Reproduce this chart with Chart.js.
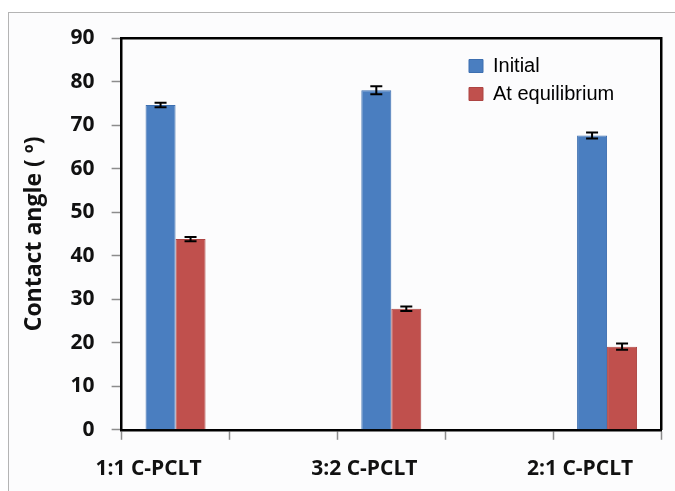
<!DOCTYPE html>
<html>
<head>
<meta charset="utf-8">
<script src="https://cdn.jsdelivr.net/npm/chart.js@4"></script>
<style>
  html, body { margin: 0; padding: 0; background: #ffffff; }
  #frame {
    position: absolute; left: 8px; top: 12px; width: 667px; height: 479px;
    border-left: 1.5px solid #b4b4b4; border-top: 1.5px solid #b4b4b4;
    background: #fcfcfd;
  }
  #wrap { position: absolute; left: 0; top: 0; width: 675px; height: 491px; }
</style>
</head>
<body>
<div id="frame"></div>
<div id="wrap"><canvas id="myChart" width="675" height="491"></canvas></div>
<script>
// categorias (as posições 2 e 4 ficam vazias, como no gráfico original)
var categorias = ['1:1 C-PCLT', '', '3:2 C-PCLT', '', '2:1 C-PCLT'];
var valoresInicial = [74.6, null, 78.0, null, 67.6];
var errosInicial = [0.5, null, 0.9, null, 0.7];
var valoresEquilibrio = [43.8, null, 27.8, null, 19.1];
var errosEquilibrio = [0.5, null, 0.5, null, 0.7];
var ticksY = [0, 10, 20, 30, 40, 50, 60, 70, 80, 90];

var fonteEixo = '"Open Sans", Lato, sans-serif';

// barras de erro desenhadas a partir da escala y
var pluginErro = {
    id: 'barrasErro',
    afterDatasetsDraw: function(chart) {
        var ctx = chart.ctx;
        var escalaY = chart.scales.y;
        chart.data.datasets.forEach(function(ds, indice) {
            var meta = chart.getDatasetMeta(indice);
            meta.data.forEach(function(barra, i) {
                var v = ds.data[i];
                var e = ds.erros[i];
                if (v == null || e == null) return;
                var yTopo = escalaY.getPixelForValue(v + e);
                var yBase = escalaY.getPixelForValue(v - e);
                ctx.save();
                ctx.strokeStyle = '#000';
                ctx.lineWidth = 2;
                ctx.beginPath();
                ctx.moveTo(barra.x, yTopo);
                ctx.lineTo(barra.x, yBase);
                ctx.moveTo(barra.x - 6, yTopo);
                ctx.lineTo(barra.x + 6, yTopo);
                ctx.moveTo(barra.x - 6, yBase);
                ctx.lineTo(barra.x + 6, yBase);
                ctx.stroke();
                ctx.restore();
            });
        });
    }
};

// coloca a legenda no canto superior direito da área do gráfico
var pluginLegenda = {
    id: 'posicaoLegenda',
    beforeDraw: function(chart) {
        var legenda = chart.legend;
        if (!legenda) return;
        legenda.left = chart.chartArea.right - 200;
        legenda.top = chart.chartArea.top + 10;
        legenda.bottom = chart.chartArea.bottom;
    }
};

var ctx = document.getElementById('myChart').getContext('2d');
var myChart = new Chart(ctx, {
    type: 'bar',
    data: {
        labels: categorias,
        datasets: [{
            label: 'Initial',
            data: valoresInicial,
            erros: errosInicial,
            backgroundColor: '#4a7ec0',
            borderColor: '#3d6fb0',
            borderWidth: 1,
            categoryPercentage: 0.556,
            barPercentage: 1.0
        }, {
            label: 'At equilibrium',
            data: valoresEquilibrio,
            erros: errosEquilibrio,
            backgroundColor: '#c0504d',
            borderColor: '#ad4442',
            borderWidth: 1,
            categoryPercentage: 0.556,
            barPercentage: 1.0
        }]
    },
    options: {
        responsive: false,
        animation: false,
        layout: {
            padding: { left: 8, top: 30, right: 6, bottom: -8 }
        },
        plugins: {
            legend: {
                position: 'chartArea',
                align: 'start',
                labels: {
                    boxWidth: 14,
                    boxHeight: 13,
                    padding: 8,
                    color: '#000',
                    font: { family: '"Liberation Sans", Arial, sans-serif', size: 20 }
                }
            },
            tooltip: { enabled: false }
        },
        scales: {
            x: {
                type: 'category',
                offset: true,
                afterFit: function(escala) {
                    escala.paddingLeft = 0;
                    escala.paddingRight = 0;
                },
                grid: {
                    offset: true,
                    drawOnChartArea: false,
                    tickLength: 10,
                    tickColor: '#8c8c8c',
                    tickWidth: 1.5
                },
                border: { color: '#000', width: 2.5 },
                ticks: {
                    autoSkip: false,
                    maxRotation: 0,
                    minRotation: 0,
                    labelOffset: -27,
                    padding: 17,
                    color: '#111',
                    font: { family: fonteEixo, size: 21, weight: 'bold' }
                }
            },
            xTopo: {
                type: 'category',
                position: 'top',
                labels: categorias,
                grid: { display: false },
                ticks: { display: false },
                border: { color: '#000', width: 2.5 }
            },
            y: {
                min: 0,
                max: 90,
                afterBuildTicks: function(escala) {
                    escala.ticks = ticksY.map(function(v) { return { value: v }; });
                },
                grid: {
                    drawOnChartArea: false,
                    tickLength: 10,
                    tickColor: '#8c8c8c',
                    tickWidth: 1.5
                },
                border: { color: '#000', width: 2.5 },
                ticks: {
                    padding: 17,
                    color: '#111',
                    font: { family: fonteEixo, size: 21, weight: 'bold' }
                },
                title: {
                    display: true,
                    text: 'Contact angle ( º)',
                    color: '#111',
                    padding: { top: 13, bottom: 5 },
                    font: { family: fonteEixo, size: 23, weight: 'bold' }
                }
            },
            yDireita: {
                type: 'linear',
                position: 'right',
                grid: { display: false },
                ticks: { display: false },
                border: { color: '#000', width: 2.5 }
            }
        }
    },
    plugins: [pluginErro, pluginLegenda]
});
</script>
</body>
</html>
